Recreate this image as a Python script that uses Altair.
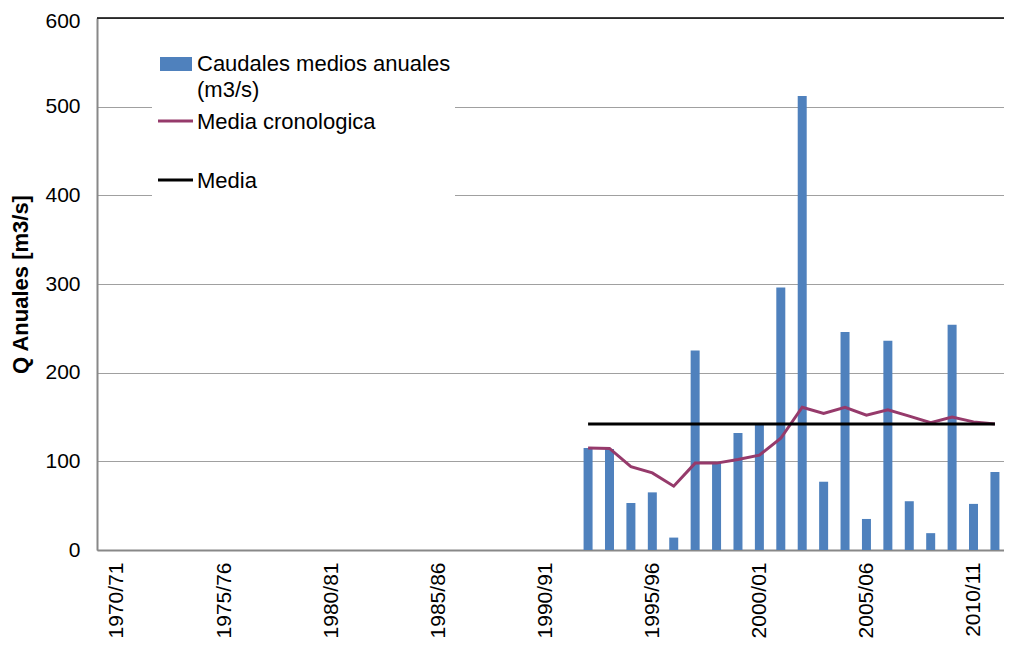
import altair as alt
import pandas as pd

seasons = ["1970/71", "1971/72", "1972/73", "1973/74", "1974/75", "1975/76", "1976/77",
           "1977/78", "1978/79", "1979/80", "1980/81", "1981/82", "1982/83", "1983/84",
           "1984/85", "1985/86", "1986/87", "1987/88", "1988/89", "1989/90", "1990/91",
           "1991/92", "1992/93", "1993/94", "1994/95", "1995/96", "1996/97", "1997/98",
           "1998/99", "1999/00", "2000/01", "2001/02", "2002/03", "2003/04", "2004/05",
           "2005/06", "2006/07", "2007/08", "2008/09", "2009/10", "2010/11", "2011/12"]

data_seasons = ["1992/93", "1993/94", "1994/95", "1995/96", "1996/97", "1997/98", "1998/99",
                "1999/00", "2000/01", "2001/02", "2002/03", "2003/04", "2004/05", "2005/06",
                "2006/07", "2007/08", "2008/09", "2009/10", "2010/11", "2011/12"]
caudales = [115, 114, 53, 65, 14, 225, 98, 132, 143, 296, 512, 77, 246, 35, 236, 55, 19, 254, 52, 88]
media_crono = [115, 114.5, 94, 87, 72, 98, 98, 102, 107, 126, 161, 154, 161, 152, 158, 151, 143.5, 150, 144.5, 142]
media = 142

y_ticks = [0, 100, 200, 300, 400, 500, 600]
x_tick_idx = [0, 5, 10, 15, 20, 25, 30, 35, 40]

df = pd.DataFrame({
    "season": data_seasons,
    "idx": [seasons.index(s) for s in data_seasons],
    "caudal": caudales,
    "crono": media_crono,
})
df_media = pd.DataFrame({"x0": [df["idx"].min()], "x1": [df["idx"].max()], "m": [media]})
one = pd.DataFrame({"k": [0]})

FONT = "Liberation Sans"
FS = 22
label_arr = "[" + ",".join("'" + s + "'" for s in seasons) + "]"

xscale = alt.Scale(domain=[-0.7, 41.19], nice=False, zero=False)
yscale = alt.Scale(domain=[0, 600], nice=False)

xaxis = alt.Axis(values=x_tick_idx, labelExpr=label_arr + "[datum.value]", labelAngle=-90,
                 labelFontSize=21, labelFont=FONT, labelColor="#000", ticks=False, labelPadding=12,
                 domainColor="#888888", domainWidth=2, grid=False, title=None)
yaxis = alt.Axis(values=y_ticks, labelFontSize=21, labelFont=FONT, labelColor="#000", ticks=False,
                 labelPadding=17, domainColor="#888888", domainWidth=2, grid=True,
                 labelOffset={"condition": {"test": "datum.value == 600", "value": 3}, "value": 0},
                 gridColor="#A0A0A0", gridWidth=1.2,
                 title="Q Anuales [m3/s]", titleFont=FONT, titleFontSize=FS, titleFontWeight="bold",
                 titleColor="#000", titleAngle=-90, titleX=-77, titleY=266, titleAlign="center",
                 titleBaseline="middle")

base = alt.Chart(df)

bars = base.mark_bar(size=9, color="#4F81BD", clip=True).encode(
    x=alt.X("idx:Q", scale=xscale, axis=xaxis),
    y=alt.Y("caudal:Q", scale=yscale, axis=yaxis),
)

crono = base.mark_line(color="#963A6B", strokeWidth=3, clip=True).encode(
    x=alt.X("idx:Q", scale=xscale), y=alt.Y("crono:Q", scale=yscale))

media_rule = alt.Chart(df_media).mark_rule(color="#000", strokeWidth=3, clip=True).encode(
    x=alt.X("x0:Q", scale=xscale), x2="x1:Q", y=alt.Y("m:Q", scale=yscale))

top_rule = alt.Chart(pd.DataFrame({"t": [600]})).mark_rule(color="#000", strokeWidth=1.5).encode(
    y=alt.Y("t:Q", scale=yscale))

# legend
leg_bg = alt.Chart(one).mark_rect(color="white").encode(
    x=alt.value(55), x2=alt.value(358), y=alt.value(22), y2=alt.value(182))
leg_bar = alt.Chart(one).mark_rect(color="#4F81BD").encode(
    x=alt.value(63), x2=alt.value(95), y=alt.value(39), y2=alt.value(53))
leg_l1 = alt.Chart(one).mark_rule(color="#963A6B", strokeWidth=3).encode(
    x=alt.value(61), x2=alt.value(96), y=alt.value(103))
leg_l2 = alt.Chart(one).mark_rule(color="#000", strokeWidth=3).encode(
    x=alt.value(61), x2=alt.value(96), y=alt.value(162))

def leg_text(txt, y):
    return alt.Chart(one).mark_text(align="left", baseline="middle", font=FONT, fontSize=FS,
                                    color="#000").encode(
        x=alt.value(100), y=alt.value(y), text=alt.value(txt))

chart = alt.layer(
    bars, crono, media_rule, top_rule,
    leg_bg, leg_bar, leg_l1, leg_l2,
    leg_text("Caudales medios anuales", 46),
    leg_text("(m3/s)", 72),
    leg_text("Media cronologica", 104),
    leg_text("Media", 163),
).properties(
    width=907, height=532,
    autosize=alt.AutoSizeParams(type="none"),
    padding={"left": 89, "top": 10, "right": 0, "bottom": 88},
).configure_view(stroke=None).configure(background="white")

chart.save("out.html", embed_options={"renderer": "svg", "actions": False})
